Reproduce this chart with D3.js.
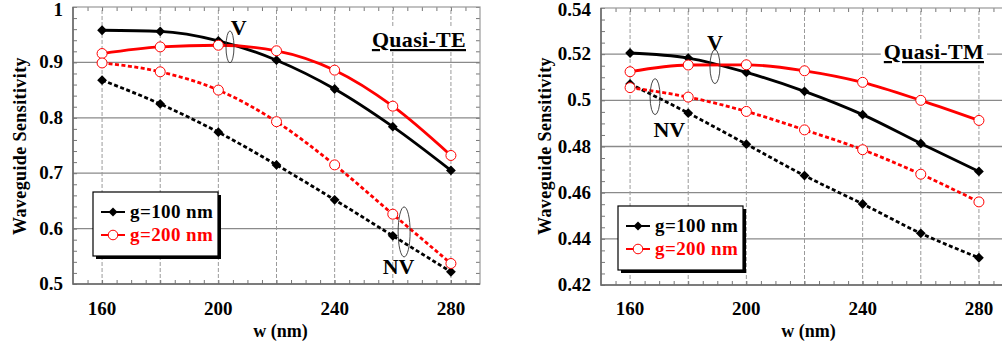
<!DOCTYPE html>
<html>
<head>
<meta charset="utf-8">
<script src="https://cdn.jsdelivr.net/npm/d3@7"></script>
<style>
  body { margin: 0; background: #fff; }
  svg { display: block; font-family: "Liberation Serif", "Times New Roman", serif; font-weight: bold; }
</style>
</head>
<body>
<svg id="chart"></svg>
<script>
// widths (nm)
let widths = [160, 180, 200, 220, 240, 260, 280];
let xTickLabels = [160, 200, 240, 280];
let seriesNames = ['g=100 nm', 'g=200 nm'];

// Quasi-TE
let teG100V  = [0.958, 0.956, 0.939, 0.904, 0.852, 0.784, 0.705];
let teG200V  = [0.916, 0.928, 0.931, 0.921, 0.886, 0.821, 0.732];
let teG100NV = [0.868, 0.825, 0.774, 0.715, 0.652, 0.587, 0.522];
let teG200NV = [0.899, 0.883, 0.850, 0.793, 0.715, 0.626, 0.537];
let teYTicks = [0.5, 0.6, 0.7, 0.8, 0.9, 1];

// Quasi-TM
let tmG100V  = [0.5205, 0.5183, 0.5121, 0.5039, 0.4938, 0.4813, 0.4692];
let tmG200V  = [0.5124, 0.5153, 0.5154, 0.5128, 0.5078, 0.5000, 0.4913];
let tmG100NV = [0.5071, 0.4945, 0.4810, 0.4674, 0.4551, 0.4424, 0.4318];
let tmG200NV = [0.5055, 0.5014, 0.4952, 0.4872, 0.4786, 0.4680, 0.4560];
let tmYTicks = [0.42, 0.44, 0.46, 0.48, 0.5, 0.52, 0.54];

let svg = d3.select('#chart')
            .attr('width', 1002)
            .attr('height', 347);

let fmt = d => String(+d.toFixed(3));

function drawPanel(p) {
  let x = d3.scaleLinear().domain([150, 290]).range([p.left, p.left + 407]);
  let y = d3.scaleLinear().domain(p.yDomain).range([p.bottom, p.top]);
  let g = svg.append('g');

  // horizontal grid (solid)
  g.selectAll('.hgrid')
    .data(p.yTicks.slice(1, -1))
    .enter().append('line')
    .attr('x1', x(150)).attr('x2', x(290))
    .attr('y1', d => y(d)).attr('y2', d => y(d))
    .attr('stroke', '#8a8a8a').attr('stroke-width', 1.3);

  // vertical grid (dashed)
  g.selectAll('.vgrid')
    .data(widths)
    .enter().append('line')
    .attr('x1', d => x(d)).attr('x2', d => x(d))
    .attr('y1', y.range()[0]).attr('y2', y.range()[1])
    .attr('stroke', '#9a9a9a').attr('stroke-width', 1)
    .attr('stroke-dasharray', '4,2');

  // minor ticks, inward on all sides
  let xMinor = d3.range(155, 290, 5);
  let yMinor = d3.range(p.yDomain[0], p.yDomain[1] + 1e-9, p.yMinor);
  let xAxB = d3.axisBottom(x).tickValues(xMinor).tickSize(-4).tickFormat('');
  let xAxT = d3.axisTop(x).tickValues(xMinor).tickSize(-4).tickFormat('');
  let yAxL = d3.axisLeft(y).tickValues(yMinor).tickSize(-4).tickFormat('');
  let yAxR = d3.axisRight(y).tickValues(yMinor).tickSize(-4).tickFormat('');
  [[xAxB, `translate(0,${p.bottom})`], [xAxT, `translate(0,${p.top})`],
   [yAxL, `translate(${p.left},0)`], [yAxR, `translate(${p.left + 407},0)`]].forEach(a => {
    let ax = g.append('g').attr('transform', a[1]).call(a[0]);
    ax.select('.domain').remove();
    ax.selectAll('line').attr('stroke', '#777');
  });

  // frame
  g.append('rect')
    .attr('x', p.left).attr('y', p.top)
    .attr('width', 407).attr('height', p.bottom - p.top)
    .attr('fill', 'none').attr('stroke', '#999').attr('stroke-width', 1.2);
  g.append('path')
    .attr('d', `M${p.left},${p.top}V${p.bottom}H${p.left + 407}`)
    .attr('fill', 'none').attr('stroke', '#666').attr('stroke-width', 1.5);

  // tick labels
  g.selectAll('.ylab')
    .data(p.yTicks)
    .enter().append('text')
    .attr('x', p.left - 10)
    .attr('y', d => Math.max(y(d) + 6, 16))
    .attr('text-anchor', 'end')
    .attr('font-size', 19)
    .text(fmt);
  g.selectAll('.xlab')
    .data(xTickLabels)
    .enter().append('text')
    .attr('x', d => x(d))
    .attr('y', 315)
    .attr('text-anchor', 'middle')
    .attr('font-size', 19)
    .text(d => d);

  // axis titles
  g.append('text')
    .attr('x', x(220) + 4).attr('y', 337)
    .attr('text-anchor', 'middle')
    .attr('font-size', 18)
    .text('w (nm)');
  g.append('text')
    .attr('transform', `translate(${p.yTitleX},146) rotate(-90)`)
    .attr('text-anchor', 'middle')
    .attr('font-size', 18)
    .attr('letter-spacing', 0.4)
    .text('Waveguide Sensitivity');

  // mode label on a white patch
  let qbg = g.append('rect').attr('fill', '#fff');
  let ql = g.append('text')
    .attr('x', p.quasi[0]).attr('y', p.quasi[1])
    .attr('text-anchor', 'end')
    .attr('font-size', 22)
    .attr('letter-spacing', 0.3)
    .attr('text-decoration', 'underline')
    .text(p.quasiText);
  let bb = ql.node().getBBox();
  qbg.attr('x', bb.x - 3).attr('y', bb.y).attr('width', bb.width + 6).attr('height', bb.height);

  // series
  let line = d3.line()
    .x((d, i) => x(widths[i]))
    .y(d => y(d))
    .curve(d3.curveMonotoneX);

  p.series.forEach(s => {
    g.append('path')
      .datum(s.values)
      .attr('d', line)
      .attr('fill', 'none')
      .attr('stroke', s.color)
      .attr('stroke-width', 2.8)
      .attr('stroke-dasharray', s.dashed ? '4,2.5' : null);
  });
  p.series.forEach(s => {
    let pts = g.append('g').selectAll('.pt')
      .data(s.values)
      .enter();
    if (s.color === 'black') {
      pts.append('path')
        .attr('d', d3.symbol(d3.symbolSquare, 48))
        .attr('transform', (d, i) => `translate(${x(widths[i])},${y(d)}) rotate(45)`)
        .attr('fill', 'black');
    } else {
      pts.append('circle')
        .attr('cx', (d, i) => x(widths[i]))
        .attr('cy', d => y(d))
        .attr('r', 5)
        .attr('fill', '#fff')
        .attr('stroke', 'red')
        .attr('stroke-width', 1);
    }
  });

  // V / NV annotations
  p.notes.forEach(n => {
    g.append('ellipse')
      .attr('cx', x(n.ex)).attr('cy', y(n.ey))
      .attr('rx', n.rx).attr('ry', n.ry)
      .attr('fill', 'none').attr('stroke', '#333').attr('stroke-width', 0.9);
    g.append('text')
      .attr('x', x(n.tx)).attr('y', y(n.ty))
      .attr('text-anchor', 'middle')
      .attr('font-size', 22)
      .text(n.label);
  });

  // legend
  let lg = g.append('g').attr('transform', `translate(${p.legend[0]},${p.legend[1]})`);
  lg.append('rect').attr('x', 3).attr('y', 3).attr('width', 125).attr('height', 64).attr('fill', 'black');
  lg.append('rect').attr('width', 125).attr('height', 64)
    .attr('fill', '#fff').attr('stroke', 'black').attr('stroke-width', 1.2);
  seriesNames.forEach((name, i) => {
    let c = i === 0 ? 'black' : 'red';
    let yy = 20 + i * 23;
    lg.append('line').attr('x1', 8).attr('x2', 32).attr('y1', yy).attr('y2', yy)
      .attr('stroke', c).attr('stroke-width', 2);
    if (i === 0) {
      lg.append('path').attr('d', d3.symbol(d3.symbolSquare, 40))
        .attr('transform', `translate(20,${yy}) rotate(45)`).attr('fill', 'black');
    } else {
      lg.append('circle').attr('cx', 20).attr('cy', yy).attr('r', 4.8)
        .attr('fill', '#fff').attr('stroke', 'red').attr('stroke-width', 1);
    }
    lg.append('text').attr('x', 37).attr('y', yy + 6)
      .attr('font-size', 19).attr('letter-spacing', 0.4)
      .attr('fill', c).text(name);
  });
}

drawPanel({
  left: 73, top: 7, bottom: 284,
  yDomain: [0.5, 1], yTicks: teYTicks, yMinor: 0.02,
  yTitleX: 26,
  quasiText: 'Quasi-TE', quasi: [466, 47],
  legend: [93, 192],
  series: [
    { values: teG100V, color: 'black', dashed: false },
    { values: teG200V, color: 'red', dashed: false },
    { values: teG100NV, color: 'black', dashed: true },
    { values: teG200NV, color: 'red', dashed: true }
  ],
  notes: [
    { label: 'V', ex: 204, ey: 0.928, rx: 4, ry: 16, tx: 207, ty: 0.949 },
    { label: 'NV', ex: 263.9, ey: 0.594, rx: 6, ry: 25, tx: 262, ty: 0.518 }
  ]
});

drawPanel({
  left: 601, top: 8, bottom: 285,
  yDomain: [0.42, 0.54], yTicks: tmYTicks, yMinor: 0.005,
  yTitleX: 551,
  quasiText: 'Quasi-TM', quasi: [984, 59],
  legend: [618, 206],
  series: [
    { values: tmG100V, color: 'black', dashed: false },
    { values: tmG200V, color: 'red', dashed: false },
    { values: tmG100NV, color: 'black', dashed: true },
    { values: tmG200NV, color: 'red', dashed: true }
  ],
  notes: [
    { label: 'V', ex: 189.2, ey: 0.5146, rx: 5, ry: 17, tx: 189.2, ty: 0.522 },
    { label: 'NV', ex: 168.6, ey: 0.5016, rx: 5, ry: 18, tx: 173.5, ty: 0.4842 }
  ]
});
</script>
</body>
</html>
